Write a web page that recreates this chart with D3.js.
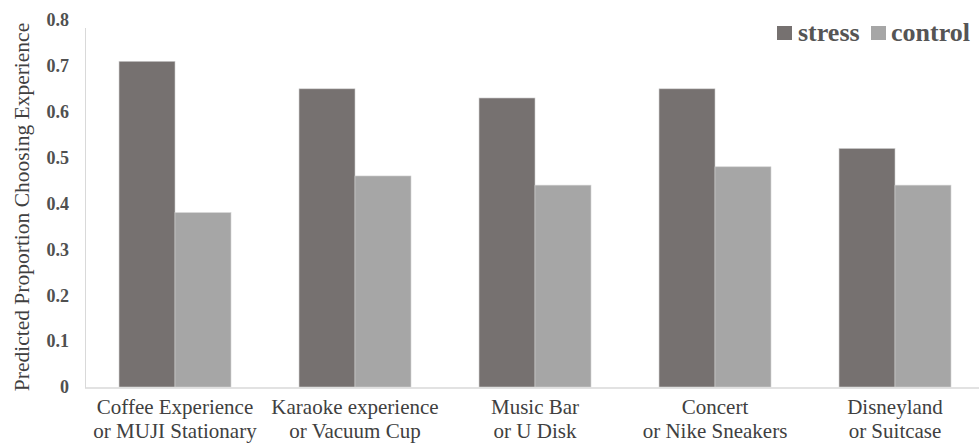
<!DOCTYPE html>
<html><head><meta charset="utf-8">
<script src="https://cdn.jsdelivr.net/npm/d3@7"></script>
</head><body style="margin:0;background:#fff">
<svg id="c" width="979" height="444" style="display:block;font-family:'Liberation Serif'"></svg>
<script>
const categories = [
  ["Coffee Experience", "or MUJI Stationary"],
  ["Karaoke experience", "or Vacuum Cup"],
  ["Music Bar", "or U Disk"],
  ["Concert", "or Nike Sneakers"],
  ["Disneyland", "or Suitcase"]
];
const seriesNames = ["stress", "control"];
const stressValues = [0.71, 0.65, 0.63, 0.65, 0.52];
const controlValues = [0.38, 0.46, 0.44, 0.48, 0.44];
const yTicks = [0, 0.1, 0.2, 0.3, 0.4, 0.5, 0.6, 0.7, 0.8];
const yTitle = "Predicted Proportion Choosing Experience";
const colors = {stress: "#767170", control: "#a6a6a6"};
const FF = '"Liberation Serif"';

const svg = d3.select("#c");
const x0 = d3.scaleBand().domain(d3.range(categories.length)).range([85, 985]).paddingInner(0.378).paddingOuter(0.189);
const x1 = d3.scaleBand().domain(seriesNames).range([0, x0.bandwidth()]);
const y = d3.scaleLinear().domain([0, 0.8]).range([387, 20]);

svg.append("line").attr("x1", 85.5).attr("x2", 85.5).attr("y1", 28).attr("y2", 388).attr("stroke", "#d9d9d9").attr("stroke-width", 1);

const yAxis = d3.axisLeft(y).tickValues(yTicks).tickSize(0).tickPadding(0).tickFormat(d => d === 0 ? "0" : d3.format(".1f")(d));
const ga = svg.append("g").attr("transform", "translate(69,0)").call(yAxis);
ga.select(".domain").remove();
ga.attr("font-family", FF).attr("font-size", 18);
ga.selectAll("text").style("font-family", FF).style("font-size", "18px").style("font-weight", "bold").attr("fill", "#505050").attr("text-anchor", "end");

const data = categories.map((c, i) => ({i, vals: [
  {k: "stress", v: stressValues[i]}, {k: "control", v: controlValues[i]}]}));
const groups = svg.append("g").selectAll("g").data(data).join("g")
  .attr("transform", d => `translate(${x0(d.i)},0)`);
groups.selectAll("rect").data(d => d.vals).join("rect")
  .attr("x", d => x1(d.k)).attr("width", x1.bandwidth())
  .attr("y", d => y(d.v)).attr("height", d => y(0) - y(d.v))
  .attr("fill", d => colors[d.k]).attr("stroke", "#d0d0d0").attr("stroke-width", 0.6);

svg.append("line").attr("x1", 85).attr("x2", 979).attr("y1", 388).attr("y2", 388).attr("stroke", "#d9d9d9").attr("stroke-width", 1.5);

const xl = svg.append("g").selectAll("text").data(categories).join("text")
  .attr("text-anchor", "middle").style("font-family", FF).style("font-size", "21px").attr("fill", "#404040");
xl.append("tspan").attr("x", (d, i) => x0(i) + x0.bandwidth() / 2).attr("y", 414).text(d => d[0]);
xl.append("tspan").attr("x", (d, i) => x0(i) + x0.bandwidth() / 2).attr("y", 438).text(d => d[1]);

svg.append("text").attr("transform", "translate(29,207) rotate(-90)")
  .attr("text-anchor", "middle").style("font-family", FF).style("font-size", "21.5px").attr("fill", "#404040").text(yTitle);

const legSq = {stress: 777, control: 871};
const legTx = {stress: 798, control: 891};
const lg = svg.append("g").selectAll("g").data(seriesNames).join("g");
lg.append("rect").attr("x", d => legSq[d]).attr("y", 26).attr("width", 15).attr("height", 14).attr("fill", d => colors[d]);
lg.append("text").attr("x", d => legTx[d]).attr("y", 41).style("font-family", FF).style("font-size", "26px").style("font-weight", "bold").attr("fill", "#555555").text(d => d);
</script>
</body></html>
